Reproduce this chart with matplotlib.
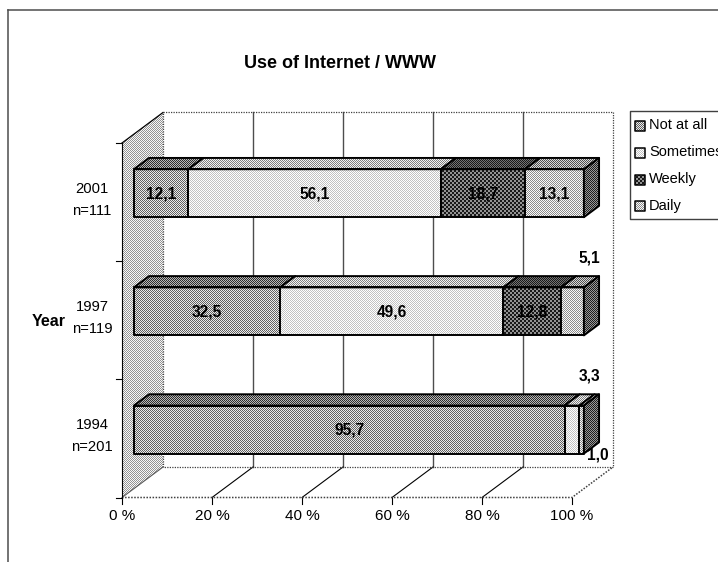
# ------------------------------------------------------------
# Use of Internet / WWW - stacked 3D-look bar chart
# ------------------------------------------------------------
import numpy as np
import matplotlib
matplotlib.use("Agg")
import matplotlib.pyplot as plt
from matplotlib.patches import Polygon

plt.rcParams["font.family"] = ["Liberation Sans", "DejaVu Sans"]

# ------------------------------------------------------------
# DATA
# ------------------------------------------------------------
title = "Use of Internet / WWW"
series = ["Not at all", "Sometimes", "Weekly", "Daily"]
year_labels = ["1994\nn=201", "1997\nn=119", "2001\nn=111"]
not_at_all = [95.7, 32.5, 12.1]
sometimes = [3.3, 49.6, 56.1]
weekly = [0.0, 12.8, 18.7]
daily = [1.0, 5.1, 13.1]
x_ticks = [0, 20, 40, 60, 80, 100]

# ------------------------------------------------------------
# LAYOUT (pixels of the 718x562 picture, y going down)
# ------------------------------------------------------------
W, H = 718, 562
X0_PX, Y0_PX = 122, 497.5      # front corner of the floor
PX_PCT = 4.5                   # pixels for one percent
PX_CAT = 118.17                # pixels for one category
DX = 41 / PX_PCT               # full chart depth in data units
DY = 30.5 / PX_CAT
BAR_FRONT, BAR_BACK = 0.29, 0.66
BAR_H = 48 / PX_CAT

# (dark, light, cell size, period) of every halftone fill
FRONT = [(0.38, 0.92, 1, 2), (0.76, 1.0, 1, 2), (0.1, 0.58, 2, 4), (0.55, 0.98, 1, 2)]
TOP = [(0.18, 0.72, 1, 2), (0.5, 0.95, 1, 2), (0.1, 0.45, 1, 2), (0.32, 0.85, 1, 2)]
SIDE = [(0.1, 0.6, 1, 2), (0.2, 0.75, 1, 2), (0.05, 0.4, 1, 2), (0.12, 0.6, 1, 2)]
WALL = (0.58, 0.97, 1, 2)

textures = {}


def dither(ax, verts, style, edge="black", lw=1.4, zorder=2):
    """Fill a polygon with a pixel halftone and draw its outline."""
    if style not in textures:
        dark, light, cell, period = style
        yy, xx = np.indices((H, W))
        on = ((xx // cell + yy // cell) % (period // cell)) == 0
        textures[style] = np.where(on, dark, light)
    poly = Polygon(verts, closed=True, transform=ax.transData, fill=False,
                   edgecolor=edge, linewidth=lw, zorder=zorder + 0.1,
                   joinstyle="round")
    xlim, ylim = ax.get_xlim(), ax.get_ylim()
    im = ax.imshow(textures[style], cmap="gray", vmin=0, vmax=1, origin="upper",
                   extent=(xlim[0], xlim[1], ylim[0], ylim[1]), aspect="auto",
                   interpolation="nearest", zorder=zorder)
    im.set_clip_path(poly)
    ax.add_patch(poly)


def project(pct, val, depth=0.0):
    """Oblique projection of a (percent, category, depth) point."""
    return pct + depth * DX, val + depth * DY


fig = plt.figure(figsize=(W / 100, H / 100), dpi=100)

# pixel axes for the frame and legend
pax = fig.add_axes([0, 0, 1, 1])
pax.set_xlim(0, W)
pax.set_ylim(H, 0)
pax.axis("off")
pax.autoscale(False)

# data axes: x is percent, y counts categories from the floor
ax = fig.add_axes([0, 0, 1, 1])
ax.set_xlim(-X0_PX / PX_PCT, (W - X0_PX) / PX_PCT)
ax.set_ylim((Y0_PX - H) / PX_CAT, Y0_PX / PX_CAT)
ax.axis("off")
ax.patch.set_alpha(0)
ax.autoscale(False)

# ------------------------------------------------------------
# OUTER FRAME, TITLE
# ------------------------------------------------------------
pax.plot([8, 8], [H, 10], color="0.3", lw=1.1)
pax.plot([8, W], [10, 10], color="0.3", lw=1.1)
pax.text(340, 63, title, ha="center", va="center", fontsize=13, fontweight="bold")

# ------------------------------------------------------------
# WALLS, FLOOR AND GRID
# ------------------------------------------------------------
n_cat = len(year_labels)
dotted = (0, (1, 1))
dither(ax, [project(0, 0), project(0, n_cat), project(0, n_cat, 1), project(0, 0, 1)],
       WALL, edge="none", lw=0, zorder=1)

for t in x_ticks:
    xb, yb = project(t, 0, 1)
    xt, yt = project(t, n_cat, 1)
    if t not in (0, 100):
        ax.plot([xb, xt], [yb, yt], color="0.3", lw=1.0, zorder=1.5)
        ax.plot([t, xb], [0, yb], color="black", lw=0.8, zorder=1.5)
    ax.plot([t, t], [0, -6 / PX_CAT], color="black", lw=0.8, zorder=1.5)
    ax.text(t, -18.5 / PX_CAT, f"{t} %", ha="center", va="center", fontsize=11)

# dotted outline of the back wall and the floor
xa, ya = project(0, n_cat, 1)
xb, yb = project(100, n_cat, 1)
xc, yc = project(100, 0, 1)
xd, yd = project(0, 0, 1)
ax.plot([xa, xb, xc, xd, xa], [ya, yb, yc, yd, ya], color="0.25", lw=0.9, ls=dotted, zorder=1.5)
ax.plot([0, 100, xc], [0, 0, yc], color="0.25", lw=1.1, ls=dotted, zorder=1.5)
ax.plot([0, xd], [0, yd], color="0.35", lw=0.8, zorder=1.5)
ax.plot([0, 0], [0, n_cat], color="black", lw=0.8, zorder=1.6)
ax.plot([0, xa], [n_cat, ya], color="black", lw=0.9, zorder=1.6)

for i in range(n_cat + 1):
    ax.plot([-6 / PX_PCT, 0], [i, i], color="black", lw=0.8, zorder=1.6)

# ------------------------------------------------------------
# BARS
# ------------------------------------------------------------
values = [not_at_all, sometimes, weekly, daily]
z = 3
for c in range(n_cat):
    lo = c + 0.5 - BAR_H / 2
    hi = c + 0.5 + BAR_H / 2
    left = 0.0
    for s in range(len(series)):
        v = values[s][c]
        if v == 0:
            continue
        right = left + v
        # top face
        dither(ax, [project(left, hi, BAR_FRONT), project(right, hi, BAR_FRONT),
                    project(right, hi, BAR_BACK), project(left, hi, BAR_BACK)],
               TOP[s], zorder=z)
        # front face
        dither(ax, [project(left, lo, BAR_FRONT), project(right, lo, BAR_FRONT),
                    project(right, hi, BAR_FRONT), project(left, hi, BAR_FRONT)],
               FRONT[s], zorder=z)
        z += 0.2
        left = right
    # end of the bar, coloured like its last segment
    dither(ax, [project(left, lo, BAR_FRONT), project(left, hi, BAR_FRONT),
                project(left, hi, BAR_BACK), project(left, lo, BAR_BACK)],
           SIDE[3], zorder=z)
    z += 0.2

# ------------------------------------------------------------
# DATA LABELS
# ------------------------------------------------------------
for c in range(n_cat):
    left = 0.0
    y_text = c + 0.5
    for s in range(len(series)):
        v = values[s][c]
        if v == 0:
            continue
        x_text, y_lab = project(left + v / 2, y_text, BAR_FRONT)
        y_lab -= 0.5 / PX_CAT
        if v < 6:
            # thin segments have their label put outside the bar
            if s == 3 and c == 0:
                x_text, y_lab = 100 + 26 / PX_PCT, (497.5 - 455) / PX_CAT
            else:
                x_text = 100 + 17.5 / PX_PCT
                y_lab = y_text + 62 / PX_CAT
        ax.text(x_text, y_lab, f"{v:.1f}".replace(".", ","), ha="center", va="center",
                fontsize=11.2, fontweight="bold", zorder=40)
        left += v

# ------------------------------------------------------------
# CATEGORY LABELS
# ------------------------------------------------------------
for c, label in enumerate(year_labels):
    year, count = label.split("\n")
    ax.text(-30 / PX_PCT, c + 0.5 + 13 / PX_CAT, year, ha="center", va="center", fontsize=10.6)
    ax.text(-30 / PX_PCT, c + 0.5 - 9 / PX_CAT, count, ha="center", va="center", fontsize=10.6)
pax.text(49, 321, "Year", ha="center", va="center", fontsize=11.5, fontweight="bold")

# ------------------------------------------------------------
# LEGEND
# ------------------------------------------------------------
pax.plot([W + 5, 629.5, 629.5, W + 5], [110.5, 110.5, 219, 219], color="0.25", lw=1.0)
for i, name in enumerate(series):
    yc_leg = 126 + i * 26.8
    dither(pax, [(634.5, yc_leg - 5), (644.5, yc_leg - 5), (644.5, yc_leg + 5), (634.5, yc_leg + 5)],
           FRONT[i], lw=1.1, zorder=2)
    pax.text(649, 129 + i * 27, name, ha="left", va="baseline", fontsize=10.5)

fig.savefig("out.png", dpi=100, facecolor="white")
